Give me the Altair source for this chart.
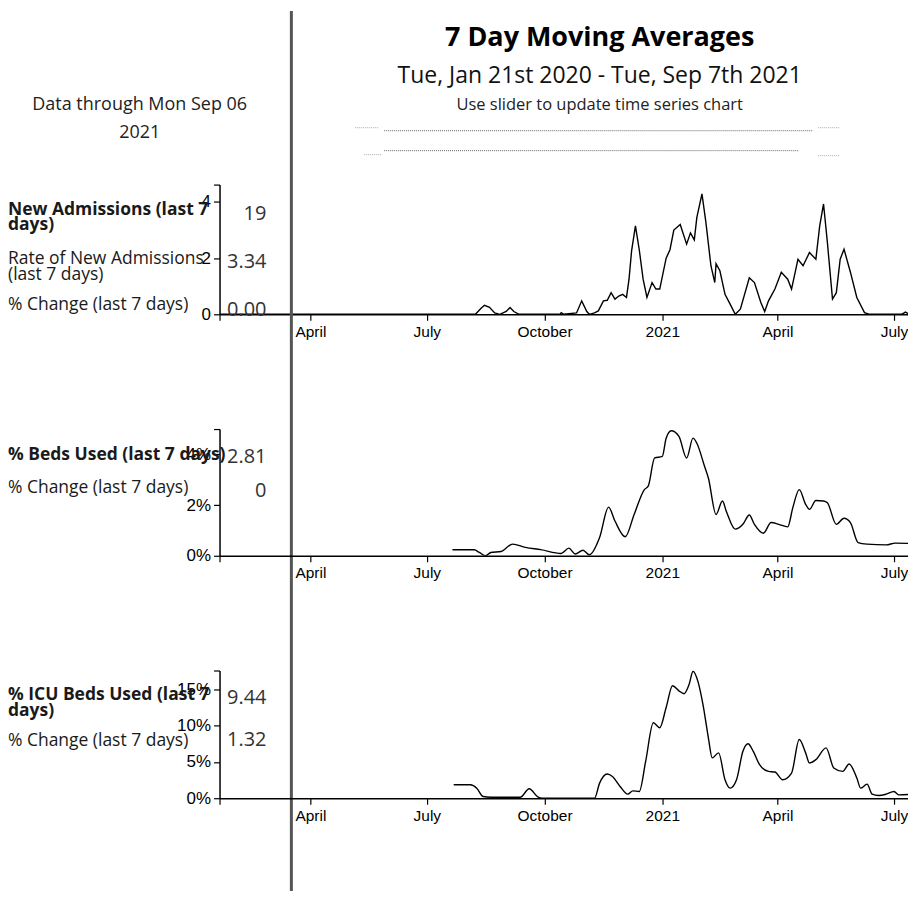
import altair as alt
import pandas as pd

# ---------------- text content ----------------
TITLE = "7 Day Moving Averages"
SUBTITLE = "Tue, Jan 21st 2020 - Tue, Sep 7th 2021"
SLIDER_NOTE = "Use slider to update time series chart"
DATA_THROUGH = ["Data through Mon Sep 06", "2021"]

P1_LABELS = [["New Admissions (last 7", "days)"], ["Rate of New Admissions", "(last 7 days)"], ["% Change (last 7 days)"]]
P1_BOLD = [True, False, False]
P1_VALUES = ["19", "3.34", "0.00"]
P2_LABELS = [["% Beds Used (last 7 days)"], ["% Change (last 7 days)"]]
P2_BOLD = [True, False]
P2_VALUES = ["2.81", "0"]
P3_LABELS = [["% ICU Beds Used (last 7", "days)"], ["% Change (last 7 days)"]]
P3_BOLD = [True, False]
P3_VALUES = ["9.44", "1.32"]

X_START = "2020-01-21"
X_END = "2021-07-12"
X_TICKS = ["2020-01-21", "2020-04-01", "2020-07-01", "2020-10-01",
           "2021-01-01", "2021-04-01", "2021-07-01"]

# ---------------- series ----------------
adm_dates = ["2020-01-21", "2020-08-08", "2020-08-12", "2020-08-15", "2020-08-19", "2020-08-23",
             "2020-08-27", "2020-09-01", "2020-09-04", "2020-09-07", "2020-09-11", "2020-10-13",
             "2020-10-14", "2020-10-16", "2020-10-26", "2020-10-30", "2020-11-03", "2020-11-05",
             "2020-11-09", "2020-11-12", "2020-11-16", "2020-11-19", "2020-11-22", "2020-11-25",
             "2020-11-28", "2020-12-01", "2020-12-04", "2020-12-06", "2020-12-08", "2020-12-11",
             "2020-12-14", "2020-12-17", "2020-12-20", "2020-12-24", "2020-12-27", "2020-12-30",
             "2021-01-04", "2021-01-07", "2021-01-10", "2021-01-15", "2021-01-20", "2021-01-23",
             "2021-01-26", "2021-01-28", "2021-02-01", "2021-02-04", "2021-02-08", "2021-02-11",
             "2021-02-12", "2021-02-15", "2021-02-19", "2021-02-23", "2021-02-27", "2021-03-03",
             "2021-03-10", "2021-03-14", "2021-03-19", "2021-03-22", "2021-03-25", "2021-03-30",
             "2021-04-04", "2021-04-09", "2021-04-12", "2021-04-17", "2021-04-21", "2021-04-26",
             "2021-05-01", "2021-05-04", "2021-05-07", "2021-05-10", "2021-05-14", "2021-05-17",
             "2021-05-20", "2021-05-23", "2021-05-28", "2021-06-02", "2021-06-08", "2021-06-12",
             "2021-07-07", "2021-07-10", "2021-07-13", "2021-07-16"]
adm_values = [0, 0, 0.2, 0.32, 0.25, 0.05,
              0, 0.1, 0.24, 0.1, 0, 0,
              0.06, 0, 0.05, 0.48, 0.1, 0,
              0.05, 0.12, 0.48, 0.5, 0.77, 0.54,
              0.65, 0.71, 0.6, 1.25, 2.26, 3.15,
              2.3, 1.25, 0.6, 1.13, 0.9, 0.9,
              2.0, 2.3, 3.0, 3.2, 2.5, 2.9,
              2.65, 3.45, 4.29, 3.3, 1.73, 1.13,
              1.8, 1.55, 0.71, 0.36, 0, 0.18,
              1.3, 1.13, 0.42, 0.1, 0.48, 0.9,
              1.5, 1.25, 0.9, 1.96, 1.73, 2.2,
              1.96, 3.15, 3.93, 2.56, 0.54, 0.77,
              1.96, 2.32, 1.5, 0.6, 0.06, 0,
              0, 0.08, 0, 0]

beds_dates = ["2020-07-21", "2020-08-07", "2020-08-11", "2020-08-16", "2020-08-20", "2020-08-28",
              "2020-09-06", "2020-09-16", "2020-09-28", "2020-10-14", "2020-10-20", "2020-10-25",
              "2020-10-31", "2020-11-05", "2020-11-13", "2020-11-20", "2020-11-25", "2020-12-03",
              "2020-12-10", "2020-12-18", "2020-12-21", "2020-12-26", "2021-01-01", "2021-01-04",
              "2021-01-08", "2021-01-14", "2021-01-20", "2021-01-25", "2021-01-28", "2021-02-03",
              "2021-02-06", "2021-02-12", "2021-02-17", "2021-02-20", "2021-02-27", "2021-03-05",
              "2021-03-10", "2021-03-14", "2021-03-21", "2021-03-27", "2021-04-02", "2021-04-09",
              "2021-04-13", "2021-04-18", "2021-04-23", "2021-04-26", "2021-05-01", "2021-05-07",
              "2021-05-10", "2021-05-17", "2021-05-23", "2021-05-28", "2021-06-03", "2021-06-10",
              "2021-06-25", "2021-07-02", "2021-07-16"]
beds_values = [0.24, 0.24, 0.13, 0.0, 0.13, 0.17,
               0.46, 0.33, 0.24, 0.09, 0.3, 0.07,
               0.22, 0.04, 0.72, 1.92, 1.37, 0.75,
               1.63, 2.61, 2.75, 3.86, 3.92, 4.64,
               4.93, 4.71, 3.86, 4.64, 4.44, 3.53,
               3.07, 1.63, 2.16, 1.76, 1.05, 1.24,
               1.61, 1.24, 0.89, 1.31, 1.24, 1.14,
               1.9, 2.61, 2.03, 1.83, 2.18, 2.16,
               2.09, 1.24, 1.48, 1.31, 0.52, 0.46,
               0.43, 0.5, 0.48]

icu_dates = ["2020-07-22", "2020-08-04", "2020-08-09", "2020-08-14", "2020-08-20", "2020-09-12",
             "2020-09-19", "2020-09-26", "2020-09-29", "2020-11-09", "2020-11-13", "2020-11-19",
             "2020-11-23", "2020-11-29", "2020-12-05", "2020-12-09", "2020-12-14", "2020-12-19",
             "2020-12-25", "2020-12-30", "2021-01-04", "2021-01-09", "2021-01-14", "2021-01-18",
             "2021-01-22", "2021-01-25", "2021-01-29", "2021-02-02", "2021-02-06", "2021-02-09",
             "2021-02-14", "2021-02-19", "2021-02-23", "2021-02-28", "2021-03-05", "2021-03-09",
             "2021-03-13", "2021-03-18", "2021-03-25", "2021-03-30", "2021-04-05", "2021-04-12",
             "2021-04-18", "2021-04-23", "2021-04-26", "2021-05-01", "2021-05-09", "2021-05-15",
             "2021-05-22", "2021-05-27", "2021-06-02", "2021-06-05", "2021-06-10", "2021-06-14",
             "2021-06-19", "2021-06-25", "2021-07-01", "2021-07-05", "2021-07-16"]
icu_values = [1.85, 1.85, 1.39, 0.23, 0.14, 0.14,
              1.3, 0.14, 0, 0, 2.08, 3.33,
              3.0, 1.62, 0.56, 1.02, 0.93, 5.09,
              10.4, 9.72, 12.5, 15.5, 14.8, 14.4,
              15.7, 17.5, 16.0, 12.7, 8.33, 5.56,
              6.25, 2.55, 1.39, 2.55, 6.48, 7.5,
              6.48, 4.63, 3.7, 3.61, 2.55, 3.47,
              8.1, 6.25, 4.86, 5.32, 6.94, 4.17,
              3.7, 4.72, 2.78, 1.39, 1.94, 0.56,
              0.37, 0.56, 0.93, 0.46, 0.56]

# ---------------- helpers ----------------
W = 690
DUMMY = pd.DataFrame({"k": [0]})
FONT = "Open Sans"


def dt(s):
    y, m, d = map(int, s.split("-"))
    return alt.DateTime(year=y, month=m, date=d)


def text_lines(lines, x, y, size, bold=False, align="left", color="#1a1a1a", lh=16):
    out = []
    for i, line in enumerate(lines):
        out.append(
            alt.Chart(DUMMY).mark_text(
                text=line, font=FONT, fontSize=size,
                fontWeight="bold" if bold else "normal",
                align=align, baseline="middle", color=color,
            ).encode(x=alt.value(x), y=alt.value(y + i * lh))
        )
    return out


def hrule(x1, x2, y, color="#666", width=1, dash=(1, 1)):
    return alt.Chart(DUMMY).mark_rule(color=color, strokeWidth=width, strokeDash=list(dash)).encode(
        x=alt.value(x1), x2=alt.value(x2), y=alt.value(y))


x_axis = alt.Axis(
    values=[dt(s) for s in X_TICKS],
    labelExpr="timeFormat(datum.value, '%m-%d') == '01-21' ? '' : datum.label",
    title=None, grid=False, tickSize=6, labelPadding=4, labelFontSize=15.5,
)


def panel(dates, values, ymax, yticks, pct, height, decorations, interp):
    df = pd.DataFrame({"date": dates, "value": values})
    suffix = " + '%'" if pct else ""
    y_axis = alt.Axis(
        values=yticks + [ymax],
        labelExpr=f"datum.value > {ymax - 0.01} ? '' : format(datum.value, 'd'){suffix}",
        title=None, grid=False, tickSize=6, labelPadding=3, labelFontSize=17,
    )
    line = alt.Chart(df).mark_line(color="black", strokeWidth=1.4, clip=True,
                                   interpolate=interp).encode(
        x=alt.X("date:T", scale=alt.Scale(domain=[dt(X_START), dt(X_END)]), axis=x_axis),
        y=alt.Y("value:Q", scale=alt.Scale(domain=[0, ymax], nice=False), axis=y_axis),
    )
    return alt.layer(line, *decorations).properties(width=W, height=height)


def side_texts(labels, bolds, values, label_ys, value_ys):
    out = []
    for lines, b, ly in zip(labels, bolds, label_ys):
        out += text_lines(lines, -212, ly, 17.5, bold=b, lh=15.5)
    for v, vy in zip(values, value_ys):
        out += text_lines([v], 47, vy, 20, align="right", color="#333")
    return out


# ---------------- panel 1 (with header) ----------------
header = []
header += text_lines([TITLE], 381, -147, 27, bold=True, align="center", color="#000")
header += text_lines([SUBTITLE], 381, -109, 23, align="center", color="#111")
header += text_lines([SLIDER_NOTE], 381, -80, 16.5, align="center", color="#222")
header += text_lines(DATA_THROUGH, -80, -80, 18, align="center", color="#222", lh=28)
header += [
    hrule(165, 595, -54), hrule(165, 580, -34),
    hrule(136, 160, -57, color="#aaa"), hrule(600, 621, -57, color="#aaa"),
    hrule(145, 163, -30, color="#aaa"), hrule(600, 621, -29, color="#aaa"),
    alt.Chart(DUMMY).mark_rule(color="#555", strokeWidth=3).encode(
        x=alt.value(72), y=alt.value(-174), y2=alt.value(708)),
]

p1 = panel(adm_dates, adm_values, 4.62, [0, 2, 4], False, 130,
           header + side_texts(P1_LABELS, P1_BOLD, P1_VALUES, [25, 75, 121], [29, 78, 126]),
           "linear")
p2 = panel(beds_dates, beds_values, 5.0, [0, 2, 4], True, 127,
           side_texts(P2_LABELS, P2_BOLD, P2_VALUES, [26, 59], [28, 62]), "monotone")
p3 = panel(icu_dates, icu_values, 17.6, [0, 5, 10, 15], True, 128,
           side_texts(P3_LABELS, P3_BOLD, P3_VALUES, [25, 71], [28, 70]), "monotone")

chart = alt.vconcat(p1, p2, p3, spacing=115, bounds="flush").properties(
    padding=0
).configure_view(strokeWidth=0).configure_axis(
    domainColor="black", tickColor="black", labelColor="black",
    labelFont="Liberation Sans", domainWidth=1.5, tickWidth=1.2,
)

chart.save("out.html", embed_options={"renderer": "svg", "actions": False})
